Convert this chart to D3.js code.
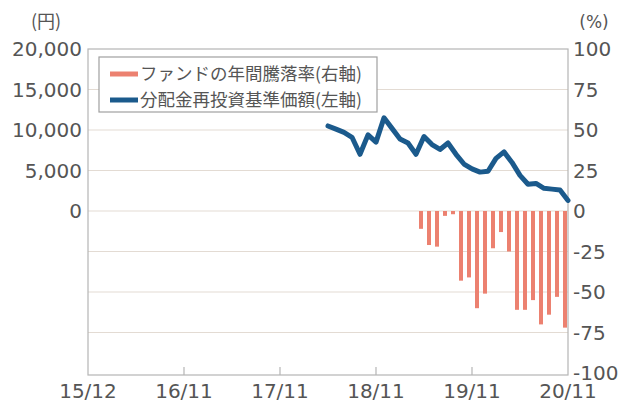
<!DOCTYPE html>
<html><head><meta charset="utf-8">
<script src="https://cdn.jsdelivr.net/npm/d3@7"></script>
<style>body{margin:0;background:#fff;}svg{display:block;}</style>
</head><body>
<svg id="c" width="623" height="405"></svg>
<script>
// ---- data ----
const xTickLabels = ["15/12","16/11","17/11","18/11","19/11","20/11"];
const xTickIdx = [0,12,24,36,48,60];
const leftTicks = [0,5000,10000,15000,20000];
const rightTicks = [100,75,50,25,0,-25,-50,-75,-100];
const navStartIdx = 30;
const navValues = [10500,10100,9700,9100,7000,9400,8500,11500,10200,8900,8400,7000,9200,8200,7600,8400,7000,5800,5200,4800,4900,6500,7300,6000,4400,3300,3400,2800,2700,2600,1300];
const retStartIdx = 42;
const retValues = [-11,-21,-22,-3,-2,-43,-41,-60,-51,-23,-13,-25,-61,-61,-55,-70,-64,-53,-72];
const legendLabels = ["ファンドの年間騰落率(右軸)","分配金再投資基準価額(左軸)"];

// ---- layout ----
const L=88,R=568,T=49,B=373;
const svg=d3.select("#c");
const x=d3.scaleLinear().domain([0,60]).range([L,R]);
const yL=d3.scaleLinear().domain([-20000,20000]).range([B,T]);
const yR=d3.scaleLinear().domain([-100,100]).range([B,T]);
const tickFont="'DejaVu Sans', sans-serif";
const txt="#555";

// gridlines
svg.append("g").selectAll("line").data(rightTicks.filter(d=>d!==100&&d!==-100)).join("line")
  .attr("x1",L).attr("x2",R).attr("y1",d=>yR(d)).attr("y2",d=>yR(d))
  .attr("stroke","#e3dbd3").attr("stroke-width",1);

// frame
svg.append("rect").attr("x",L).attr("y",T).attr("width",R-L).attr("height",B-T+2)
  .attr("fill","none").attr("stroke","#b5b5b5").attr("stroke-width",1.2);

// x ticks (inner)
svg.append("g").selectAll("line").data(xTickIdx.slice(1,-1)).join("line")
  .attr("x1",d=>x(d)).attr("x2",d=>x(d)).attr("y1",B+2).attr("y2",B-6)
  .attr("stroke","#b5b5b5").attr("stroke-width",1.2);

// bars
const bw=4;
svg.append("g").selectAll("rect").data(retValues).join("rect")
  .attr("x",(d,i)=>x(retStartIdx+i)-3-bw/2)
  .attr("width",bw)
  .attr("y",d=>yR(Math.max(0,d)))
  .attr("height",d=>Math.abs(yR(d)-yR(0)))
  .attr("fill","#ec8170");

// line
const line=d3.line().x((d,i)=>x(navStartIdx+i)).y(d=>yL(d)).curve(d3.curveLinear);
svg.append("path").datum(navValues).attr("d",line)
  .attr("fill","none").attr("stroke","#1b5a8c").attr("stroke-width",5)
  .attr("stroke-linejoin","round").attr("stroke-linecap","round");

// left axis labels
svg.append("g").selectAll("text").data(leftTicks).join("text")
  .attr("x",82).attr("y",d=>yL(d)).attr("dy","0.36em").attr("text-anchor","end")
  .attr("font-family",tickFont).attr("font-size",20).attr("fill",txt)
  .text(d=>d3.format(",")(d));
// right axis labels
svg.append("g").selectAll("text").data(rightTicks).join("text")
  .attr("x",573).attr("y",d=>yR(d)).attr("dy","0.36em").attr("text-anchor","start")
  .attr("font-family",tickFont).attr("font-size",20).attr("fill",txt)
  .text(d=>d);
// x labels
svg.append("g").selectAll("text").data(xTickIdx).join("text")
  .attr("x",d=>x(d)).attr("y",398).attr("text-anchor","middle")
  .attr("font-family",tickFont).attr("font-size",20).attr("fill",txt)
  .text((d,i)=>xTickLabels[i]);
// units
svg.append("text").attr("x",46).attr("y",28).attr("text-anchor","middle")
  .attr("font-family","'Noto Sans CJK JP', sans-serif").attr("font-size",18).attr("fill",txt).text("(円)");
svg.append("text").attr("x",594).attr("y",28).attr("text-anchor","middle")
  .attr("font-family",tickFont).attr("font-size",17).attr("fill",txt).text("(%)");

// legend
const lg=svg.append("g");
lg.append("rect").attr("x",99).attr("y",57).attr("width",278).attr("height",55)
  .attr("fill","#fff").attr("stroke","#a0a0a0").attr("stroke-width",1.2);
const colors=["#ec8170","#1b5a8c"];
legendLabels.forEach((t,i)=>{
  const cy=74+i*26;
  lg.append("line").attr("x1",110).attr("x2",138).attr("y1",cy).attr("y2",cy)
    .attr("stroke",colors[i]).attr("stroke-width",5);
  lg.append("text").attr("x",140).attr("y",cy).attr("dy","0.36em")
    .attr("font-family","'Noto Sans CJK JP', sans-serif").attr("font-size",17.5).attr("fill",txt).text(t);
});
</script>
</body></html>
